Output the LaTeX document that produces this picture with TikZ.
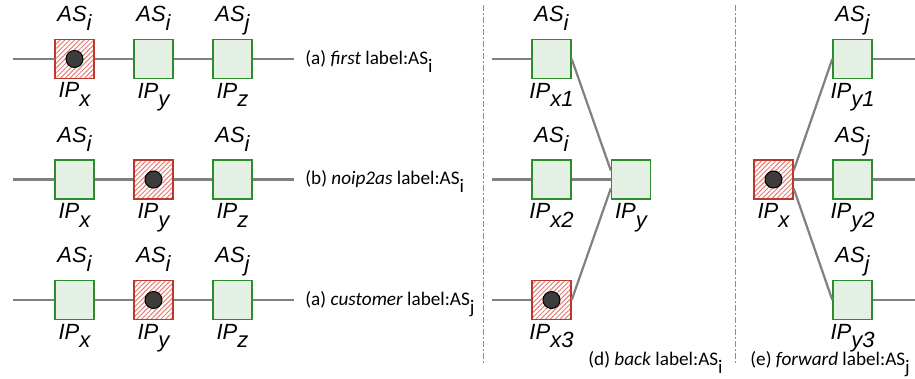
\documentclass[tikz,border=0pt]{standalone}
\usepackage{fontspec}
\setmainfont{Carlito}
\newfontfamily\tagfont{Liberation Sans}
\usetikzlibrary{positioning,patterns.meta}
\definecolor{boxgreen}{RGB}{45,140,45}
\definecolor{boxfill}{RGB}{228,240,228}
\definecolor{hitred}{RGB}{190,55,45}
\definecolor{hatch}{RGB}{228,125,115}
\definecolor{dotgray}{RGB}{60,60,60}
\definecolor{wiregray}{RGB}{128,128,128}
\definecolor{sepgray}{RGB}{140,140,140}
\newcommand\lowsub[1]{\raisebox{-0.4em}{#1}}
\newcommand\ipname[1]{IP\lowsub{#1}}
\newcommand\asname[1]{AS\lowsub{#1}}

\begin{document}
\begin{tikzpicture}[x=0.5pt,y=0.5pt,
  box/.style={draw=boxgreen,fill=boxfill,line width=0.7pt,minimum size=19.5pt,inner sep=0pt},
  hit/.style={draw=hitred,line width=0.7pt,minimum size=19.5pt,inner sep=0pt,
    pattern={Lines[angle=45,distance=1.7pt,line width=0.5pt]},pattern color=hatch},
  dot/.style={circle,fill=dotgray,draw=black,line width=0.5pt,minimum size=8.5pt,inner sep=0pt},
  wire/.style={draw=wiregray,line width=1.1pt},
  sep/.style={draw=sepgray,line width=0.4pt,dash pattern=on 3pt off 1.2pt on 0.6pt off 1.2pt},
  tag/.style={font=\tagfont\itshape\fontsize{11}{11}\selectfont,inner sep=0pt},
  capt/.style={font=\fontsize{9.6}{12}\selectfont,inner sep=0pt,anchor=base west}]
\useasboundingbox (0,0) rectangle (915,379);

% (a) first
\coordinate (a0) at (13,320);
\node[hit] (a1) at (74.5,320) {};
\node[box] (a2) at (153.5,320) {};
\node[box] (a3) at (232.5,320) {};
\coordinate (a4) at (294,320);
\node[dot] (a1c) at (a1) {};
\draw[wire] (a0) -- (a1) -- (a2) -- (a3) -- (a4);
\node[tag,above=8.5pt of a1,anchor=base] (a1s) {\asname{i}};
\node[tag,above=8.5pt of a2,anchor=base] (a2s) {\asname{i}};
\node[tag,above=8.5pt of a3,anchor=base] (a3s) {\asname{j}};
\node[tag,below=9.5pt of a1,anchor=base] (a1i) {\ipname{x}};
\node[tag,below=9.5pt of a2,anchor=base] (a2i) {\ipname{y}};
\node[tag,below=9.5pt of a3,anchor=base] (a3i) {\ipname{z}};
\node[capt] (capa) at (305,314.5) {(a) \textit{first} label:\asname{i}};

% (b) noip2as
\coordinate (b0) at (13,199.5);
\node[box] (b1) at (74.5,199.5) {};
\node[hit] (b2) at (153.5,199.5) {};
\node[box] (b3) at (232.5,199.5) {};
\coordinate (b4) at (294,199.5);
\node[dot] (b2c) at (b2) {};
\draw[wire] (b0) -- (b1) -- (b2) -- (b3) -- (b4);
\node[tag,above=8.5pt of b1,anchor=base] (b1s) {\asname{i}};
\node[tag,above=8.5pt of b3,anchor=base] (b3s) {\asname{i}};
\node[tag,below=9.5pt of b1,anchor=base] (b1i) {\ipname{x}};
\node[tag,below=9.5pt of b2,anchor=base] (b2i) {\ipname{y}};
\node[tag,below=9.5pt of b3,anchor=base] (b3i) {\ipname{z}};
\node[capt] (capb) at (305,194) {(b) \textit{noip2as} label:\asname{i}};

% (a) customer
\coordinate (c0) at (13,79);
\node[box] (c1) at (74.5,79) {};
\node[hit] (c2) at (153.5,79) {};
\node[box] (c3) at (232.5,79) {};
\coordinate (c4) at (294,79);
\node[dot] (c2c) at (c2) {};
\draw[wire] (c0) -- (c1) -- (c2) -- (c3) -- (c4);
\node[tag,above=8.5pt of c1,anchor=base] (c1s) {\asname{i}};
\node[tag,above=8.5pt of c2,anchor=base] (c2s) {\asname{i}};
\node[tag,above=8.5pt of c3,anchor=base] (c3s) {\asname{j}};
\node[tag,below=9.5pt of c1,anchor=base] (c1i) {\ipname{x}};
\node[tag,below=9.5pt of c2,anchor=base] (c2i) {\ipname{y}};
\node[tag,below=9.5pt of c3,anchor=base] (c3i) {\ipname{z}};
\node[capt] (capc) at (305,73.5) {(a) \textit{customer} label:\asname{j}};

% separators
\coordinate (s1t) at (483,374);
\coordinate (s1b) at (483,16);
\coordinate (s2t) at (735,374);
\coordinate (s2b) at (735,16);
\draw[sep] (s1t) -- (s1b);
\draw[sep] (s2t) -- (s2b);

% (d) back
\coordinate (d1w) at (492,320);
\coordinate (d2w) at (492,199.5);
\coordinate (d3w) at (492,79);
\node[box] (d1) at (551.5,320) {};
\node[box] (d2) at (551.5,199.5) {};
\node[hit] (d3) at (551.5,79) {};
\node[box] (dy) at (631,199.5) {};
\node[dot] (d3c) at (d3) {};
\draw[wire] (d1w) -- (d1);
\draw[wire] (d2w) -- (d2);
\draw[wire] (d3w) -- (d3);
\draw[wire] (d1.east) -- ([yshift=4.5pt]dy.west);
\draw[wire] (d2) -- (dy);
\draw[wire] (d3.east) -- ([yshift=-4.5pt]dy.west);
\node[tag,above=8.5pt of d1,anchor=base] (d1s) {\asname{i}};
\node[tag,above=8.5pt of d2,anchor=base] (d2s) {\asname{i}};
\node[tag,below=9.5pt of d1,anchor=base] (d1i) {\ipname{x1}};
\node[tag,below=9.5pt of d2,anchor=base] (d2i) {\ipname{x2}};
\node[tag,below=9.5pt of d3,anchor=base] (d3i) {\ipname{x3}};
\node[tag,below=9.5pt of dy,anchor=base] (dyi) {\ipname{y}};
\node[capt] (capd) at (588,13) {(d) \textit{back} label:\asname{i}};

% (e) forward
\node[hit] (ex) at (773.5,199.5) {};
\node[box] (e1) at (852.5,320) {};
\node[box] (e2) at (852.5,199.5) {};
\node[box] (e3) at (852.5,79) {};
\coordinate (e1e) at (915,320);
\coordinate (e2e) at (915,199.5);
\coordinate (e3e) at (915,79);
\node[dot] (exc) at (ex) {};
\draw[wire] ([yshift=4.5pt]ex.east) -- (e1.west);
\draw[wire] (ex) -- (e2);
\draw[wire] ([yshift=-4.5pt]ex.east) -- (e3.west);
\draw[wire] (e1) -- (e1e);
\draw[wire] (e2) -- (e2e);
\draw[wire] (e3) -- (e3e);
\node[tag,above=8.5pt of e1,anchor=base] (e1s) {\asname{j}};
\node[tag,above=8.5pt of e2,anchor=base] (e2s) {\asname{j}};
\node[tag,above=8.5pt of e3,anchor=base] (e3s) {\asname{j}};
\node[tag,below=9.5pt of ex,anchor=base] (exi) {\ipname{x}};
\node[tag,below=9.5pt of e1,anchor=base] (e1i) {\ipname{y1}};
\node[tag,below=9.5pt of e2,anchor=base] (e2i) {\ipname{y2}};
\node[tag,below=9.5pt of e3,anchor=base] (e3i) {\ipname{y3}};
\node[capt] (cape) at (750,13) {(e) \textit{forward} label:\asname{j}};
\end{tikzpicture}
\end{document}
